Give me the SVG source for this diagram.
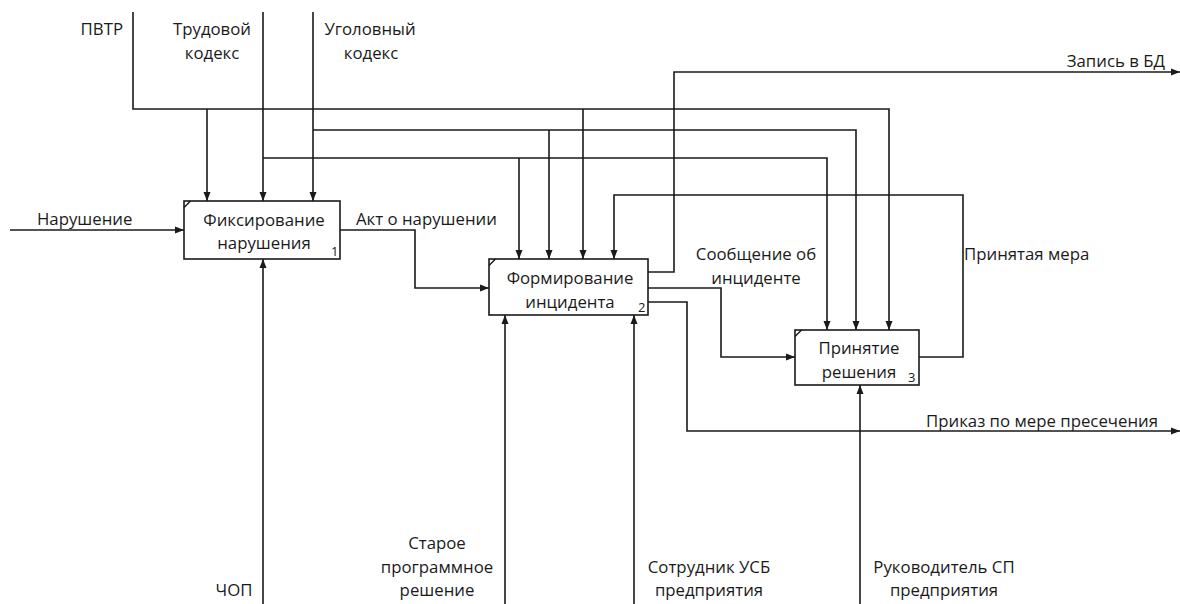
<svg xmlns="http://www.w3.org/2000/svg" width="1180" height="604" viewBox="0 0 1180 604">
  <style>
    .lbl { font-family: "Open Sans", "Liberation Sans", sans-serif; font-size: 16.8px; fill: #1a1a1a; }
    .mid { text-anchor: middle; }
    .end { text-anchor: end; }
    .num { font-family: "Open Sans", "Liberation Sans", sans-serif; font-size: 13px; fill: #1a1a1a; }
    .box { fill: #ffffff; stroke: #1a1a1a; stroke-width: 1.6; }
    .corner { stroke: #1a1a1a; stroke-width: 1.4; }
    .conn { fill: none; stroke: #1a1a1a; stroke-width: 1.6; marker-end: url(#arrow); }
  </style>
  <defs>
    <marker id="arrow" markerUnits="userSpaceOnUse" markerWidth="9" markerHeight="8" refX="9" refY="4" orient="auto">
      <path d="M0,0.5 L9,4 L0,7.5 z" fill="#1a1a1a"/>
    </marker>
  </defs>
  <rect width="1180" height="604" fill="#ffffff"/>

  <!-- connectors -->
  <g id="connectors">
    <!-- controls -->
    <path class="conn" d="M133,12 V109 H889 V330"/>
    <path class="conn" d="M207,109 V201"/>
    <path class="conn" d="M583,109 V259"/>
    <path class="conn" d="M263,12 V201"/>
    <path class="conn" d="M263,158 H827 V330"/>
    <path class="conn" d="M519,158 V259"/>
    <path class="conn" d="M313,12 V201"/>
    <path class="conn" d="M313,130 H856 V330"/>
    <path class="conn" d="M549,130 V259"/>
    <!-- inputs and outputs -->
    <path class="conn" d="M10,230 H184"/>
    <path class="conn" d="M340,230 H415 V288 H489"/>
    <path class="conn" d="M648,272 H674 V72 H1180"/>
    <path class="conn" d="M648,288 H721 V357 H795"/>
    <path class="conn" d="M648,302 H687 V431 H1180"/>
    <path class="conn" d="M919,357 H963 V195 H614 V259"/>
    <!-- mechanisms -->
    <path class="conn" d="M263,604 V259"/>
    <path class="conn" d="M505,604 V315"/>
    <path class="conn" d="M634,604 V315"/>
    <path class="conn" d="M860,604 V385"/>

    <text class="lbl end" x="123" y="35">ПВТР</text>
    <text class="lbl mid" x="212" y="35">Трудовой</text>
    <text class="lbl mid" x="212" y="59">кодекс</text>
    <text class="lbl mid" x="370" y="35">Уголовный</text>
    <text class="lbl mid" x="371" y="59">кодекс</text>
    <text class="lbl" x="37" y="225">Нарушение</text>
    <text class="lbl" x="356" y="225">Акт о нарушении</text>
    <text class="lbl mid" x="756" y="260">Сообщение об</text>
    <text class="lbl mid" x="756" y="284">инциденте</text>
    <text class="lbl" x="964" y="260">Принятая мера</text>
    <text class="lbl end" x="1165" y="67">Запись в БД</text>
    <text class="lbl end" x="1158" y="427">Приказ по мере пресечения</text>
    <text class="lbl mid" x="234" y="596">ЧОП</text>
    <text class="lbl mid" x="437" y="549">Старое</text>
    <text class="lbl mid" x="437" y="573">программное</text>
    <text class="lbl mid" x="437" y="596">решение</text>
    <text class="lbl mid" x="709" y="573">Сотрудник УСБ</text>
    <text class="lbl mid" x="709" y="596">предприятия</text>
    <text class="lbl mid" x="944" y="573">Руководитель СП</text>
    <text class="lbl mid" x="944" y="596">предприятия</text>
  </g>

  <!-- activity 1 -->
  <g id="node-1">
    <rect class="box" x="184" y="201" width="156" height="58"/>
    <line class="corner" x1="184" y1="207.5" x2="190.5" y2="201"/>
    <text class="lbl mid" x="264" y="226">Фиксирование</text>
    <text class="lbl mid" x="264" y="249">нарушения</text>
    <text class="num" x="331" y="256">1</text>
  </g>

  <!-- activity 2 -->
  <g id="node-2">
    <rect class="box" x="489" y="259" width="159" height="56"/>
    <line class="corner" x1="489" y1="265.5" x2="495.5" y2="259"/>
    <text class="lbl mid" x="570" y="284">Формирование</text>
    <text class="lbl mid" x="570" y="308">инцидента</text>
    <text class="num" x="638" y="312">2</text>
  </g>

  <!-- activity 3 -->
  <g id="node-3">
    <rect class="box" x="795" y="330" width="124" height="55"/>
    <line class="corner" x1="795" y1="336.5" x2="801.5" y2="330"/>
    <text class="lbl mid" x="859" y="354">Принятие</text>
    <text class="lbl mid" x="859" y="378">решения</text>
    <text class="num" x="908" y="382">3</text>
  </g>
</svg>
